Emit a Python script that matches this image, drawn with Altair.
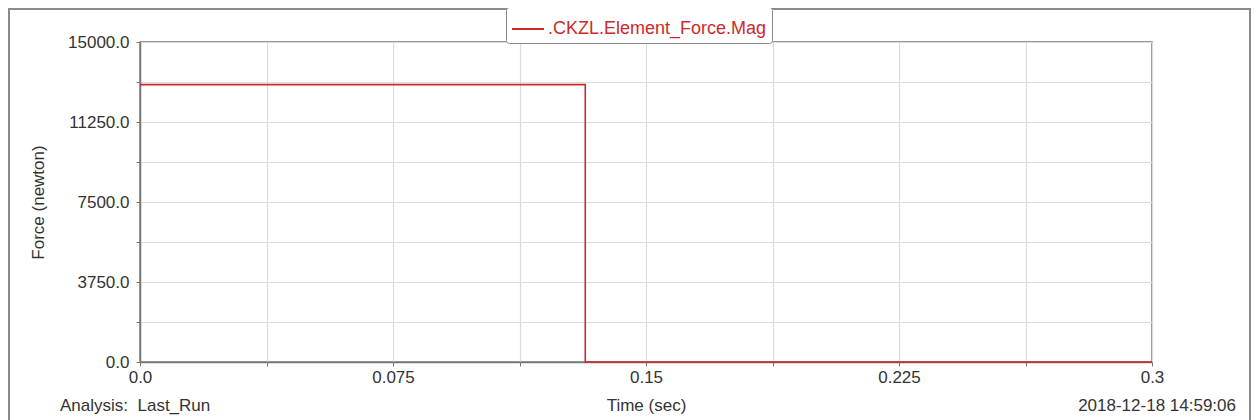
import altair as alt
import pandas as pd

# ---- data ----
time_s = [0.0, 0.132, 0.3]
force_n = [13000.0, 0.0, 0.0]
series_name = ".CKZL.Element_Force.Mag"

x_grid_values = [0, 0.0375, 0.075, 0.1125, 0.15, 0.1875, 0.225, 0.2625, 0.3]
y_grid_values = [0, 1875, 3750, 5625, 7500, 9375, 11250, 13125, 15000]

footer_left = ["Analysis:\u00a0 Last_Run"]
footer_right = ["2018-12-18 14:59:06"]

RED = "#cc2a2a"
FONT = "Liberation Sans"
TXT = "#333333"
FS = 17

df = pd.DataFrame({"t": time_s, "f": force_n, "s": [series_name] * len(time_s)})

W, H = 1012, 320

line = alt.Chart(df).mark_line(interpolate="step-after", strokeWidth=1.6).encode(
    x=alt.X("t:Q", scale=alt.Scale(domain=[0, 0.3], nice=False, zero=False),
            axis=alt.Axis(values=x_grid_values, title="Time (sec)",
                          labelExpr="round(datum.index*8) % 2 == 0 ? (datum.value == 0 ? '0.0' : format(datum.value, '~g')) : ''",
                          titlePadding=12, labelPadding=3, labelFlush=False)),
    y=alt.Y("f:Q", scale=alt.Scale(domain=[0, 15000], nice=False),
            axis=alt.Axis(values=y_grid_values, title="Force (newton)",
                          labelExpr="round(datum.index*8) % 2 == 0 ? format(datum.value, '.1f') : ''",
                          titlePadding=20, labelPadding=7, labelFlush=False)),
    color=alt.Color("s:N", scale=alt.Scale(domain=[series_name], range=[RED]),
                    legend=alt.Legend(title=None, orient="none", legendX=366, legendY=-35,
                                      strokeColor="#888888", fillColor="white", cornerRadius=3,
                                      padding=5, symbolType="stroke", symbolSize=1024,
                                      symbolStrokeWidth=2, labelColor=RED, labelFontSize=18,
                                      labelFont=FONT, labelLimit=0, labelOffset=3)),
)

frame = alt.Chart(pd.DataFrame({"d": [1]})).mark_rect(
    fill=None, stroke="#8a8a8a", strokeWidth=2
).encode(
    x=alt.value(-131), x2=alt.value(1110), y=alt.value(-33), y2=alt.value(400)
)

left_txt = alt.Chart(pd.DataFrame({"txt": footer_left})).mark_text(
    align="left", baseline="middle", font=FONT, fontSize=FS, color=TXT
).encode(x=alt.value(-80), y=alt.value(364), text="txt:N")

right_txt = alt.Chart(pd.DataFrame({"txt": footer_right})).mark_text(
    align="right", baseline="middle", font=FONT, fontSize=FS, color=TXT
).encode(x=alt.value(1096), y=alt.value(364), text="txt:N")

chart = alt.layer(frame, line, left_txt, right_txt).properties(
    width=W, height=H,
    autosize=alt.AutoSizeParams(type="none"),
    padding={"left": 132, "top": 34, "right": 100, "bottom": 58},
).configure_view(
    stroke="#777777", strokeWidth=1.5
).configure_axis(
    labelFont=FONT, titleFont=FONT, labelFontSize=FS, titleFontSize=FS,
    labelColor=TXT, titleColor=TXT, titleFontWeight="normal",
    gridColor="#dcdcdc", gridWidth=1.2, domainColor="#777777", domainWidth=1.5,
    tickColor="#777777", tickSize=4,
)

chart.save("out.html", embed_options={"renderer": "svg", "actions": False})
